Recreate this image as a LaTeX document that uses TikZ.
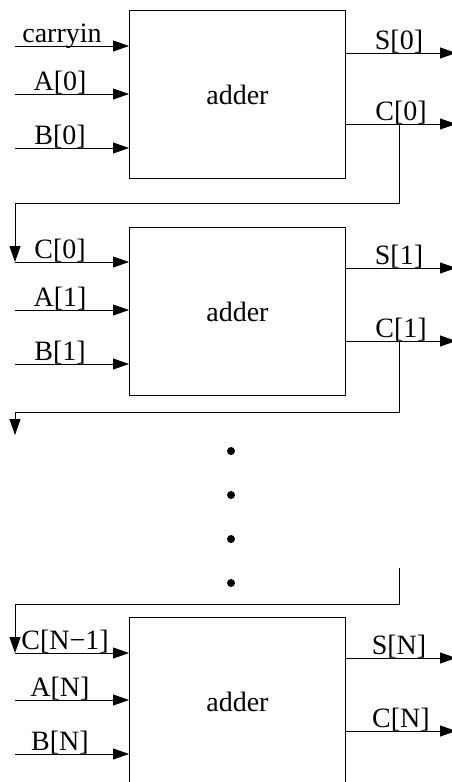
\documentclass[tikz,border=0pt]{standalone}
\usepackage{fontspec}
\setmainfont{Liberation Serif}
\usetikzlibrary{arrows.meta,positioning}

\tikzset{
  adderbox/.style={draw,line width=0.9pt,minimum width=216pt,minimum height=168pt,inner sep=0pt},
  sig/.style={line width=0.8pt,-{Triangle[length=16pt,width=11pt]}},
  lbl/.style={anchor=base,inner sep=0pt}
}

\begin{document}
\begin{tikzpicture}[x=1pt,y=-1pt,font=\fontsize{28}{33}\selectfont]
\useasboundingbox (0,0) rectangle (451,782);

% first stage
\begin{scope}[shift={(0,10)}]
    \node[adderbox,anchor=north west] (add1) at (129,0) {adder};
    \coordinate (i1a) at (15,36);  \coordinate (i1b) at (15,84);  \coordinate (i1c) at (15,138);
    \coordinate (o1s) at (456,43); \coordinate (o1c) at (456,114);
    \draw[sig] (i1a) -- (i1a -| add1.west);
    \draw[sig] (i1b) -- (i1b -| add1.west);
    \draw[sig] (i1c) -- (i1c -| add1.west);
    \draw[sig] (o1s -| add1.east) -- (o1s);
    \draw[sig] (o1c -| add1.east) -- (o1c);
    \node[lbl] (l1a) at (62,32) {carryin};
    \node[lbl] (l1b) at (60,80) {A[0]};
    \node[lbl] (l1c) at (60,134) {B[0]};
    \node[lbl] (l1s) at (399,39) {S[0]};
    \node[lbl] (l1d) at (401,110) {C[0]};
    \coordinate (tap1) at (399,114);
\end{scope}

% second stage
\begin{scope}[shift={(0,227)}]
    \node[adderbox,anchor=north west] (add2) at (129,0) {adder};
    \coordinate (i2a) at (15,35);  \coordinate (i2b) at (15,83);  \coordinate (i2c) at (15,137);
    \coordinate (o2s) at (456,41); \coordinate (o2c) at (456,114);
    \draw[sig] (i2a) -- (i2a -| add2.west);
    \draw[sig] (i2b) -- (i2b -| add2.west);
    \draw[sig] (i2c) -- (i2c -| add2.west);
    \draw[sig] (o2s -| add2.east) -- (o2s);
    \draw[sig] (o2c -| add2.east) -- (o2c);
    \node[lbl] (l2a) at (60,31) {C[0]};
    \node[lbl] (l2b) at (60,79) {A[1]};
    \node[lbl] (l2c) at (60,133) {B[1]};
    \node[lbl] (l2s) at (399,37) {S[1]};
    \node[lbl] (l2d) at (401,110) {C[1]};
    \coordinate (tap2) at (399,114);
\end{scope}

% last stage
\begin{scope}[shift={(0,617)}]
    \node[adderbox,anchor=north west] (add3) at (129,0) {adder};
    \coordinate (i3a) at (15,36);  \coordinate (i3b) at (15,83);  \coordinate (i3c) at (15,137);
    \coordinate (o3s) at (456,41); \coordinate (o3c) at (456,114);
    \draw[sig] (i3a) -- (i3a -| add3.west);
    \draw[sig] (i3b) -- (i3b -| add3.west);
    \draw[sig] (i3c) -- (i3c -| add3.west);
    \draw[sig] (o3s -| add3.east) -- (o3s);
    \draw[sig] (o3c -| add3.east) -- (o3c);
    \node[lbl] (l3a) at (65,32) {C[N−1]};
    \node[lbl] (l3b) at (60,79) {A[N]};
    \node[lbl] (l3c) at (60,133) {B[N]};
    \node[lbl] (l3s) at (399,37) {S[N]};
    \node[lbl] (l3d) at (401,110) {C[N]};
\end{scope}

% carry feedback
\coordinate (turn1) at (15,203);
\coordinate (turn2) at (15,412);
\coordinate (down2) at (15,435);
\coordinate (top3) at (399,568);
\coordinate (turn3) at (15,604);
\draw[sig] (tap1) |- (turn1) -- (i2a);
\draw[sig] (tap2) |- (turn2) -- (down2);
\draw[sig] (top3) |- (turn3) -- (i3a);

% dots
\foreach \y in {451,495,539,583}
    \fill (231,\y) circle (4);
\end{tikzpicture}
\end{document}
